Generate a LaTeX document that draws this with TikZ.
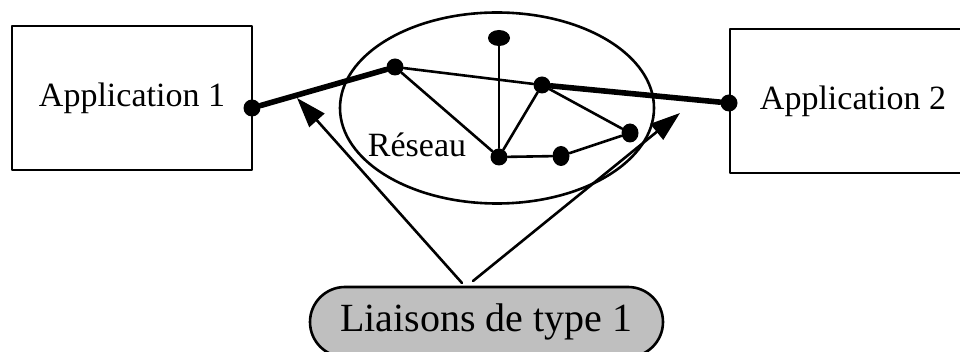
\documentclass[tikz,border=0pt]{standalone}
\usepackage{fontspec}
\setmainfont{Liberation Serif}
\usetikzlibrary{arrows.meta,shapes.geometric}

\tikzset{
  appbox/.style={draw, line width=1.2pt, rectangle, minimum width=120pt, minimum height=72pt,
    inner sep=0pt, font=\fontsize{17pt}{20pt}\selectfont},
  pt/.style={circle, fill, inner sep=0pt, minimum size=8.5pt},
  thin/.style={line width=1.3pt},
  thick link/.style={line width=2.8pt},
}

\begin{document}
\begin{tikzpicture}[>={Triangle[length=15pt,width=10pt]}, line cap=round, line join=round,
  x=0.5pt, y=-0.5pt]

\useasboundingbox (0,0) rectangle (960,352);

% ----------------------------
% APPLICATIONS
% ----------------------------
\node[appbox] (app1) at (132,98) {Application 1};
\node[appbox, minimum width=123pt] (app2) at (853,101) {Application 2};

% ----------------------------
% NETWORK
% ----------------------------
\node[draw, thin, ellipse, minimum width=157pt, minimum height=95.5pt, inner sep=0pt]
  (reseau) at (497,108) {};
\node[font=\fontsize{17pt}{20pt}\selectfont] (lbl) at (417,145) {Réseau};

% nodes of the network
\node[pt] (p1) at (252,108) {};
\node[pt] (p2) at (729,103) {};
\node[pt] (nA) at (395,67) {};
\node[pt, ellipse, minimum width=11pt, minimum height=8pt] (nB) at (499,38) {};
\node[pt] (nC) at (542,85) {};
\node[pt] (nD) at (499,157) {};
\node[pt, ellipse, minimum width=8.5pt, minimum height=10pt] (nE) at (561,156) {};
\node[pt, ellipse, minimum width=8.5pt, minimum height=9.5pt] (nF) at (630,133) {};

% links
\draw[thin] (nA) -- (nC);
\draw[thin] (nA) -- (nD);
\draw[thin] (nB) -- (nD);
\draw[thin] (nC) -- (nD);
\draw[thin] (nC) -- (nF);
\draw[thin] (nD) -- (nE);
\draw[thin] (nE) -- (nF);

\draw[thick link] (p1) -- (nA);
\draw[thick link] (nC) -- (p2);

% ----------------------------
% TYPE 1 LINKS
% ----------------------------
\node[draw, thin, fill=black!25, rounded corners=17.5pt, minimum width=176.5pt,
  minimum height=35pt, inner sep=0pt, font=\fontsize{20pt}{24pt}\selectfont]
  (liaisons) at (486.5,322) {Liaisons de type 1};

\coordinate (s1) at (462,283);
\coordinate (s2) at (473,281);
\coordinate (t1) at (297,98);
\coordinate (t2) at (680,113);

\draw[thin, ->] (s1) -- (t1);
\draw[thin, ->] (s2) -- (t2);

\end{tikzpicture}
\end{document}
